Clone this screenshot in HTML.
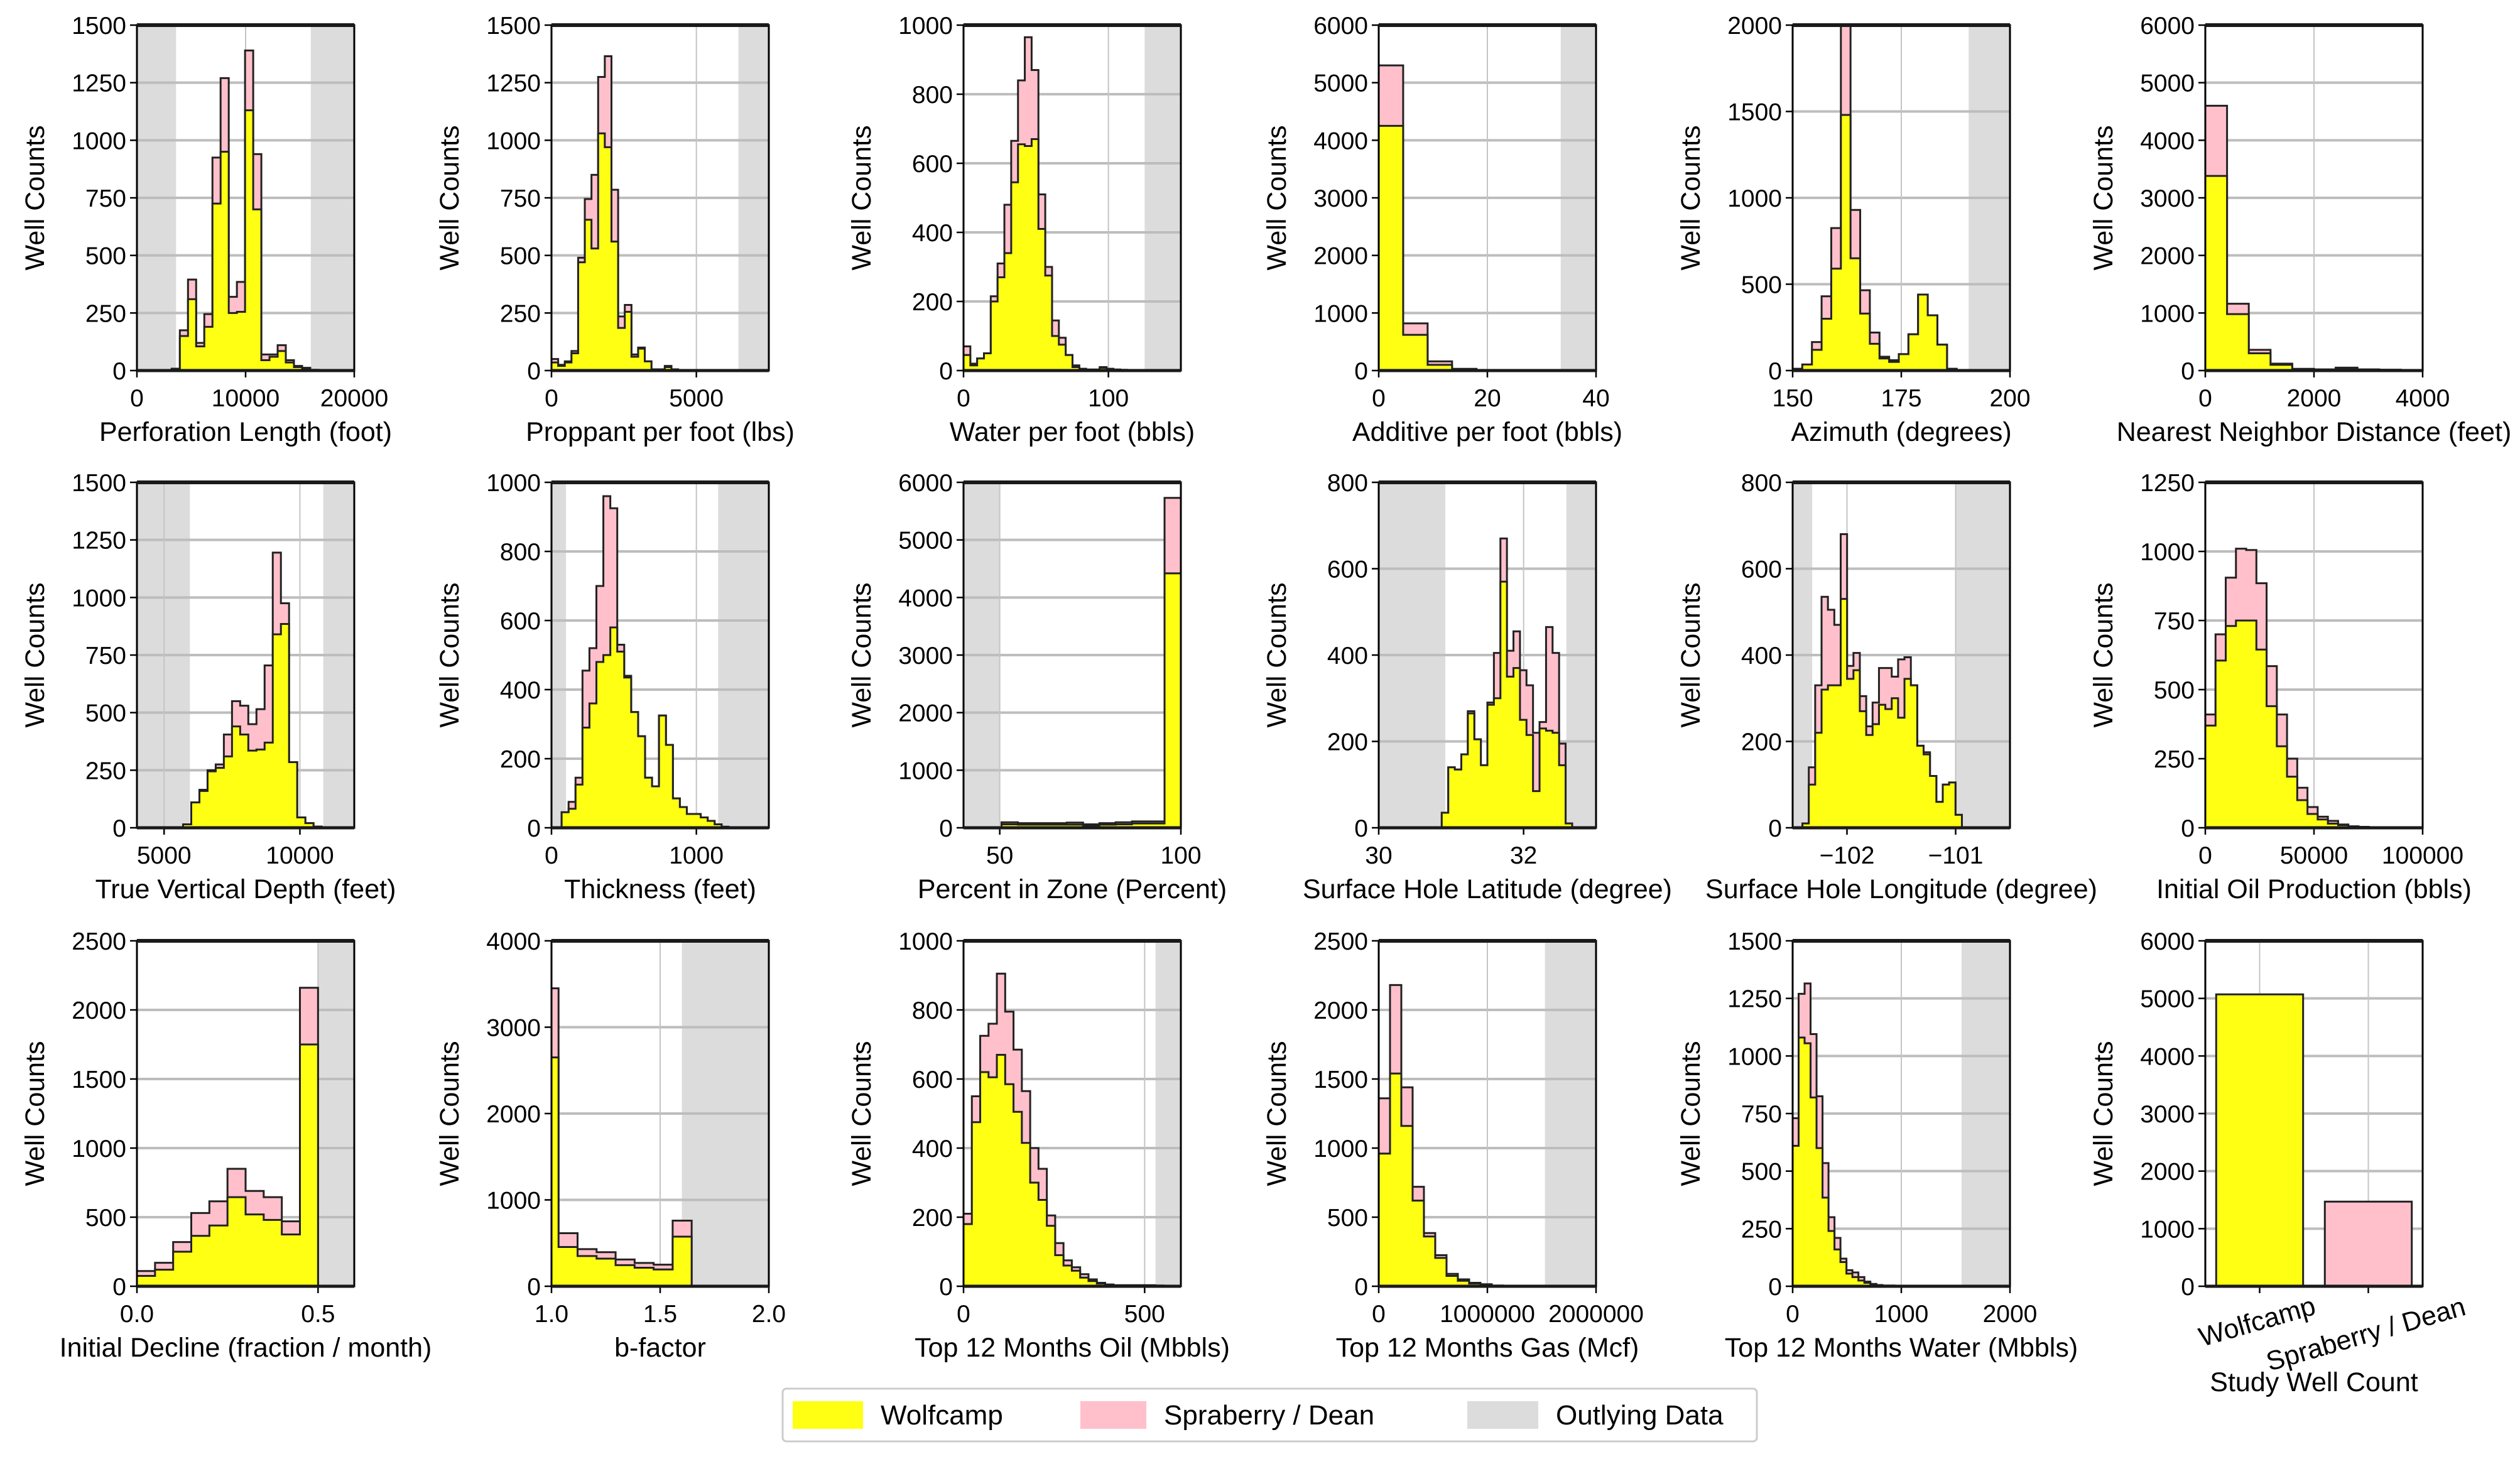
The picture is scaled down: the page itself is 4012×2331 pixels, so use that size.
<!DOCTYPE html>
<html><head><meta charset="utf-8"><style>
html,body{margin:0;padding:0;background:#fff;}
svg{display:block;font-family:"Liberation Sans",Arial,sans-serif;}
</style></head><body>
<svg id="chart" xmlns="http://www.w3.org/2000/svg" width="4012" height="2331" viewBox="0 0 4012 2331">
<rect x="0" y="0" width="4012" height="2331" fill="#ffffff"/>
<g id="legend">
<rect x="1246" y="2211" width="1551" height="84" fill="#fff" stroke="#cccccc" stroke-width="3" rx="6"/>
<rect x="1262" y="2231" width="112" height="44" fill="#ffff14"/>
<text x="1402" y="2268" font-size="44">Wolfcamp</text>
<rect x="1720" y="2231" width="105" height="44" fill="#ffc0cb"/>
<text x="1853" y="2268" font-size="44">Spraberry / Dean</text>
<rect x="2336" y="2231" width="113" height="44" fill="#dcdcdc"/>
<text x="2477" y="2268" font-size="44">Outlying Data</text>
</g>
</svg>
<script>
const perfWolf=[8,150,310,105,190,725,950,250,255,1130,700,45,60,85,35,15,10,3];
const perfTotal=[8,175,395,120,245,925,1270,320,385,1390,940,70,70,110,45,20,12,3];
const propWolf=[35,20,35,75,470,655,530,1030,970,560,185,255,60,95,40,5,5,15,5];
const propTotal=[50,25,40,85,490,745,850,1275,1365,785,235,285,70,100,40,5,5,20,5];
const waterWolf=[45,15,35,50,200,270,340,545,655,650,670,410,275,100,75,45,10,5,3,3,8,5,3,2];
const waterTotal=[70,20,35,50,215,310,480,665,840,965,870,510,300,145,95,45,15,5,3,3,10,5,3,2];
const addWolf=[4250,620,100,20,5,3,3];
const addTotal=[5300,820,160,30,8,3,3];
const aziWolf=[10,35,120,300,590,1480,650,330,155,70,50,95,210,440,320,150,10];
const aziTotal=[10,35,165,430,825,2050,930,465,220,80,60,95,210,440,320,150,10];
const nnWolf=[3380,980,300,100,20,15,30,15,10,5];
const nnTotal=[4600,1160,360,120,30,20,50,20,15,5];
const tvdWolf=[15,110,160,245,260,310,440,405,335,340,370,840,885,285,45,20,5];
const tvdTotal=[15,110,165,250,275,405,550,530,450,515,705,1195,975,285,45,20,5];
const thickWolf=[45,55,125,290,360,480,500,580,510,435,335,265,145,120,325,240,85,60,40,40,30,20,10,3];
const thickTotal=[45,75,145,455,520,700,960,925,530,440,335,265,145,120,325,240,85,60,40,40,30,20,10,3];
const pizWolf=[60,55,55,55,55,40,55,60,75,75,4420];
const pizTotal=[95,80,80,80,90,60,80,95,110,110,5730];
const latWolf=[35,140,135,170,265,205,145,285,300,570,350,370,250,215,85,230,225,220,145,10];
const latTotal=[35,140,135,170,270,205,145,290,405,670,410,455,365,330,220,245,465,405,195,10];
const lonWolf=[10,100,220,320,330,330,530,345,365,270,215,240,285,275,300,255,345,330,190,170,120,60,100,105,30];
const lonTotal=[10,140,330,535,505,470,680,375,405,305,235,290,370,370,350,390,395,330,190,175,120,60,100,105,30];
const ipWolf=[370,605,730,750,750,645,440,295,185,100,50,30,15,10,5,3,2,2];
const ipTotal=[410,700,905,1010,1005,885,585,410,250,145,75,40,25,12,5,3,2,2];
const declWolf=[75,120,250,365,440,645,520,480,375,1750];
const declTotal=[110,170,320,530,615,850,690,645,470,2160];
const bWolf=[2650,455,350,320,245,215,195,575];
const bTotal=[3450,615,430,395,310,270,250,760];
const oilWolf=[180,475,620,605,670,585,505,415,300,250,175,90,60,45,25,15,8,5,3,3,3,3,3,2];
const oilTotal=[210,550,725,760,905,795,685,565,400,340,205,125,75,55,35,20,10,5,3,3,3,3,3,2];
const gasWolf=[960,1540,1160,620,360,205,75,40,20,12,5,3,2,2];
const gasTotal=[1360,2180,1440,720,385,225,90,50,25,15,5,3,2,2];
const wtrWolf=[610,1080,1055,820,600,385,240,160,105,55,40,25,15,10,5,3,3,2];
const wtrTotal=[730,1270,1315,1095,825,535,300,210,120,70,60,40,20,10,5,3,3,2];
const studyCategories=["Wolfcamp","Spraberry / Dean"];
const studyCounts=[5070,1470];

const ticks1500=[0,250,500,750,1000,1250,1500];
const ticks1000=[0,200,400,600,800,1000];
const ticks6000=[0,1000,2000,3000,4000,5000,6000];
const ticks2000=[0,500,1000,1500,2000];
const ticks800=[0,200,400,600,800];
const ticks1250=[0,250,500,750,1000,1250];
const ticks2500=[0,500,1000,1500,2000,2500];
const ticks4000=[0,1000,2000,3000,4000];

const panels=[
 {name:"perforation-length",label:"Perforation Length (foot)",xmin:0,xmax:20000,ymax:1500,yt:ticks1500,xt:[0,10000,20000],xl:["0","10000","20000"],grey:[[0,3600],[16000,20000]],start:3200,width:750,w:perfWolf,t:perfTotal},
 {name:"proppant-per-foot",label:"Proppant per foot (lbs)",xmin:0,xmax:7500,ymax:1500,yt:ticks1500,xt:[0,5000],xl:["0","5000"],grey:[[6450,7500]],start:0,width:230,w:propWolf,t:propTotal},
 {name:"water-per-foot",label:"Water per foot (bbls)",xmin:0,xmax:150,ymax:1000,yt:ticks1000,xt:[0,100],xl:["0","100"],grey:[[125,150]],start:0,width:4.7,w:waterWolf,t:waterTotal},
 {name:"additive-per-foot",label:"Additive per foot (bbls)",xmin:0,xmax:40,ymax:6000,yt:ticks6000,xt:[0,20,40],xl:["0","20","40"],grey:[[33.5,40]],start:0,width:4.5,w:addWolf,t:addTotal},
 {name:"azimuth",label:"Azimuth (degrees)",xmin:150,xmax:200,ymax:2000,yt:ticks2000,xt:[150,175,200],xl:["150","175","200"],grey:[[190.5,200]],start:150,width:2.22,w:aziWolf,t:aziTotal},
 {name:"nearest-neighbor",label:"Nearest Neighbor Distance (feet)",xmin:0,xmax:4000,ymax:6000,yt:ticks6000,xt:[0,2000,4000],xl:["0","2000","4000"],grey:[],start:0,width:400,w:nnWolf,t:nnTotal},
 {name:"true-vertical-depth",label:"True Vertical Depth (feet)",xmin:4000,xmax:12000,ymax:1500,yt:ticks1500,xt:[5000,10000],xl:["5000","10000"],grey:[[4000,5950],[10860,12000]],start:5700,width:300,w:tvdWolf,t:tvdTotal},
 {name:"thickness",label:"Thickness (feet)",xmin:0,xmax:1500,ymax:1000,yt:ticks1000,xt:[0,1000],xl:["0","1000"],grey:[[0,100],[1150,1500]],start:70,width:48,w:thickWolf,t:thickTotal},
 {name:"percent-in-zone",label:"Percent in Zone (Percent)",xmin:40,xmax:100,ymax:6000,yt:ticks6000,xt:[50,100],xl:["50","100"],grey:[[40,50]],start:50.5,width:4.5,w:pizWolf,t:pizTotal},
 {name:"surface-latitude",label:"Surface Hole Latitude (degree)",xmin:30,xmax:33,ymax:800,yt:ticks800,xt:[30,32],xl:["30","32"],grey:[[30,30.92],[32.59,33]],start:30.87,width:0.09,w:latWolf,t:latTotal},
 {name:"surface-longitude",label:"Surface Hole Longitude (degree)",xmin:-102.5,xmax:-100.5,ymax:800,yt:ticks800,xt:[-102,-101],xl:["\u2212102","\u2212101"],grey:[[-102.5,-102.32],[-101,-100.5]],start:-102.41,width:0.0587,w:lonWolf,t:lonTotal},
 {name:"initial-oil-production",label:"Initial Oil Production (bbls)",xmin:0,xmax:100000,ymax:1250,yt:ticks1250,xt:[0,50000,100000],xl:["0","50000","100000"],grey:[],start:0,width:4700,w:ipWolf,t:ipTotal},
 {name:"initial-decline",label:"Initial Decline (fraction / month)",xmin:0,xmax:0.6,ymax:2500,yt:ticks2500,xt:[0,0.5],xl:["0.0","0.5"],grey:[[0.5,0.6]],start:0,width:0.05,w:declWolf,t:declTotal},
 {name:"b-factor",label:"b-factor",xmin:1,xmax:2,ymax:4000,yt:ticks4000,xt:[1,1.5,2],xl:["1.0","1.5","2.0"],grey:[[1.6,2]],start:0.945,width:0.0875,w:bWolf,t:bTotal},
 {name:"top12-oil",label:"Top 12 Months Oil (Mbbls)",xmin:0,xmax:600,ymax:1000,yt:ticks1000,xt:[0,500],xl:["0","500"],grey:[[530,600]],start:0,width:23,w:oilWolf,t:oilTotal},
 {name:"top12-gas",label:"Top 12 Months Gas (Mcf)",xmin:0,xmax:2000000,ymax:2500,yt:ticks2500,xt:[0,1000000,2000000],xl:["0","1000000","2000000"],grey:[[1530000,2000000]],start:0,width:104000,w:gasWolf,t:gasTotal},
 {name:"top12-water",label:"Top 12 Months Water (Mbbls)",xmin:0,xmax:2000,ymax:1500,yt:ticks1500,xt:[0,1000,2000],xl:["0","1000","2000"],grey:[[1555,2000]],start:0,width:55,w:wtrWolf,t:wtrTotal}
];

const NS="http://www.w3.org/2000/svg";
const svg=document.getElementById("chart");
const lefts=[218,878,1534,2195,2854,3511];
const tops=[40,768,1498];
const PW=346, PH=550;
const TICKFS=39, TITLEFS=43;
function mk(tag,attrs,parent){const e=document.createElementNS(NS,tag);for(const k in attrs)e.setAttribute(k,attrs[k]);parent.appendChild(e);return e;}

function axesCommon(g,L,T,xs,ys,p,yt,xt,xl){
  yt.forEach(v=>{
    const gl=mk("line",{x1:L,x2:L+PW,y1:ys(v),y2:ys(v),stroke:"#bdbdbd","stroke-width":4},g);
    
    
    const tk=mk("line",{x1:L-11,x2:L,y1:ys(v),y2:ys(v),stroke:"#000","stroke-width":2.5},g);
    
    
    const tl=mk("text",{x:L-17,y:ys(v)+14,"font-size":TICKFS,"text-anchor":"end"},g);
    tl.textContent=String(v);
    
    
  });
  xt.forEach((v,i)=>{
    const gl=mk("line",{x1:xs(v),x2:xs(v),y1:T,y2:T+PH,stroke:"#c4c4c4","stroke-width":2},g);
    
    
    const tk=mk("line",{x1:xs(v),x2:xs(v),y1:T+PH,y2:T+PH+11,stroke:"#000","stroke-width":2.5},g);
    
    
    if(xl){
      const tl=mk("text",{x:xs(v),y:T+PH+57,"font-size":TICKFS,"text-anchor":"middle"},g);
      tl.textContent=xl[i];
      
      
    }
  });
  const yl=mk("text",{x:0,y:0,"font-size":TITLEFS,"text-anchor":"middle",transform:`translate(${L-148},${T+PH/2}) rotate(-90)`},g);
  yl.textContent="Well Counts";
  
  
}

function frame(g,L,T){
  const r=mk("rect",{x:L,y:T,width:PW,height:PH,fill:"none",stroke:"#000","stroke-width":3},g);
  
  
  const tl=mk("line",{x1:L,x2:L+PW,y1:T,y2:T,stroke:"#1a1a1a","stroke-width":6},g);
  
  
  const bl=mk("line",{x1:L,x2:L+PW,y1:T+PH,y2:T+PH,stroke:"#1a1a1a","stroke-width":5},g);
  
  
}

function stepPath(vals,p,xs,ys){
  let d=`M${xs(p.start)},${ys(0)}`;
  vals.forEach((v,i)=>{
    const a=p.start+i*p.width, b=a+p.width;
    d+=` L${xs(a)},${ys(v)} L${xs(b)},${ys(v)}`;
  });
  d+=` L${xs(p.start+vals.length*p.width)},${ys(0)} Z`;
  return d;
}

panels.forEach((p,idx)=>{
  const col=idx%6,row=Math.floor(idx/6);
  const L=lefts[col],T=tops[row];
  const xs=v=>L+(v-p.xmin)/(p.xmax-p.xmin)*PW;
  const ys=v=>T+PH-v/p.ymax*PH;
  const g=mk("g",{},svg);
  
  
  const cp=mk("clipPath",{id:"clip"+idx},g);
  mk("rect",{x:L,y:T,width:PW,height:PH},cp);
  p.grey.forEach(r=>{
    const a=Math.max(r[0],p.xmin),b=Math.min(r[1],p.xmax);
    const gr=mk("rect",{x:xs(a),y:T,width:xs(b)-xs(a),height:PH,fill:"#dcdcdc"},g);
    
    
  });
  axesCommon(g,L,T,xs,ys,p,p.yt,p.xt,p.xl);
  const hg=mk("g",{"clip-path":`url(#clip${idx})`},g);
  
  
  const tp=mk("path",{d:stepPath(p.t,p,xs,ys),fill:"#ffc0cb",stroke:"#222","stroke-width":3},hg);
  
  
  const wp=mk("path",{d:stepPath(p.w,p,xs,ys),fill:"#ffff14",stroke:"#222","stroke-width":3},hg);
  
  
  frame(g,L,T);
  const xl=mk("text",{x:L+PW/2,y:T+PH+112,"font-size":TITLEFS,"text-anchor":"middle"},g);
  xl.textContent=p.label;
  
  
});

(function(){
  const L=lefts[5],T=tops[2];
  const ymax=6000;
  const ys=v=>T+PH-v/ymax*PH;
  const xs=v=>L+v*PW;
  const g=mk("g",{},svg);
  
  
  const centers=studyCategories.map((c,i)=>(i+0.5)/studyCategories.length);
  axesCommon(g,L,T,xs,ys,null,ticks6000,centers,null);
  const colors=["#ffff14","#ffc0cb"];
  studyCategories.forEach((c,i)=>{
    const cx=xs(centers[i]),bw=PW*0.4;
    const b=mk("rect",{x:cx-bw/2,y:ys(studyCounts[i]),width:bw,height:ys(0)-ys(studyCounts[i]),fill:colors[i],stroke:"#222","stroke-width":3},g);
    
    
    const t=mk("text",{x:0,y:0,"font-size":TITLEFS,"text-anchor":"middle",transform:`translate(${cx},${T+PH+(i===0?70:90)}) rotate(-16)`},g);
    t.textContent=c;
    
    
  });
  frame(g,L,T);
  const xl=mk("text",{x:L+PW/2,y:T+PH+167,"font-size":TITLEFS,"text-anchor":"middle"},g);
  xl.textContent="Study Well Count";
  
  
})();
svg.appendChild(document.getElementById("legend"));
</script>
</body></html>
